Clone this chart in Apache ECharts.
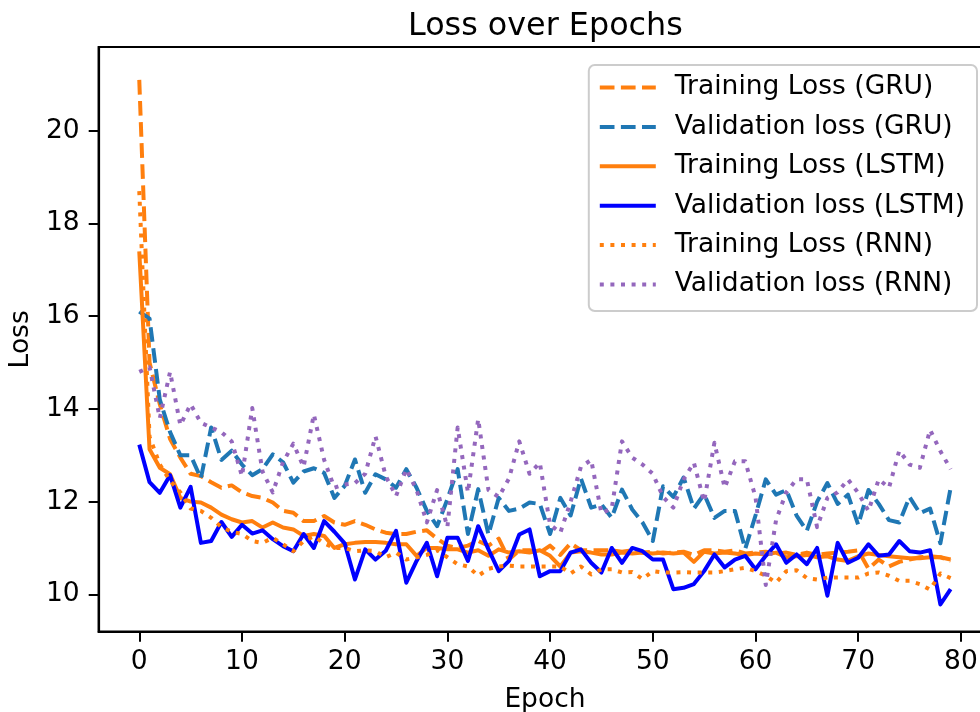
<!DOCTYPE html>
<html><head><meta charset="utf-8">
<script src="https://cdn.jsdelivr.net/npm/echarts@6/dist/echarts.min.js"></script>
<style>html,body{margin:0;padding:0;background:#fff}#c{width:980px;height:712px}</style>
</head><body><div id="c"></div>
<script>
const epochs = Array.from({length: 80}, (_, i) => i);
const xTicks = [0, 10, 20, 30, 40, 50, 60, 70, 80];
const yTicks = [10, 12, 14, 16, 18, 20];
const seriesNames = ['Training Loss (GRU)', 'Validation loss (GRU)', 'Training Loss (LSTM)', 'Validation loss (LSTM)', 'Training Loss (RNN)', 'Validation loss (RNN)'];

const gruTrain = [21.1,15.0,14.1,13.35,12.95,12.6,12.55,12.42,12.3,12.35,
12.2,12.12,12.08,11.98,11.8,11.76,11.58,11.58,11.69,11.55,
11.5,11.58,11.5,11.4,11.33,11.3,11.3,11.35,11.38,11.2,
11.05,11.0,11.05,11.15,11.05,11.2,10.75,10.95,10.95,10.9,
11.05,10.85,11.1,10.95,10.95,10.95,10.95,10.92,10.95,10.9,
10.92,10.88,10.9,10.92,10.85,10.95,10.95,10.92,10.95,10.88,
10.9,10.92,10.88,10.9,10.85,10.9,10.85,10.88,10.9,10.92,
10.95,10.55,10.75,10.6,10.7,10.75,10.8,10.82,10.8,10.72];

const gruVal = [16.1,15.95,14.2,13.5,13.0,13.0,12.5,13.6,12.9,13.1,
12.8,12.57,12.7,13.02,12.85,12.41,12.65,12.72,12.62,12.08,
12.34,12.91,12.19,12.59,12.48,12.3,12.7,12.3,11.8,11.47,
12.05,12.7,11.3,12.27,11.29,12.08,11.8,11.85,11.98,11.95,
11.3,12.08,11.7,12.5,11.87,11.94,11.65,12.26,11.83,11.55,
11.15,12.33,12.1,12.52,11.85,12.16,11.65,11.8,11.8,10.98,
11.7,12.48,12.15,12.25,11.7,11.37,12.0,12.4,11.95,12.15,
11.5,12.25,11.95,11.6,11.55,12.1,11.75,11.85,11.1,12.3];

const lstmTrain = [17.4,13.13,12.73,12.59,12.08,12.0,11.98,11.87,11.72,11.62,
11.55,11.58,11.44,11.55,11.44,11.4,11.26,11.3,11.26,11.0,
11.08,11.11,11.13,11.13,11.11,11.08,11.08,10.83,11.0,11.0,
10.97,10.97,10.9,10.95,10.83,10.97,10.9,10.93,10.9,10.95,
10.83,10.6,10.9,10.93,10.9,10.86,10.86,10.9,10.88,10.9,
10.88,10.9,10.88,10.9,10.7,10.92,10.88,10.9,10.88,10.85,
10.88,10.86,10.9,10.8,10.82,10.85,10.8,10.82,10.75,10.72,
10.82,10.88,10.85,10.82,10.8,10.78,10.78,10.8,10.8,10.75];

const lstmVal = [13.23,12.42,12.19,12.57,11.87,12.32,11.11,11.15,11.56,11.24,
11.5,11.31,11.38,11.19,11.04,10.93,11.3,11.0,11.58,11.35,
11.1,10.32,10.97,10.75,10.94,11.37,10.25,10.72,11.11,10.39,
11.22,11.22,10.72,11.47,10.97,10.5,10.72,11.29,11.4,10.39,
10.5,10.5,10.9,10.97,10.68,10.47,11.0,10.68,11.0,10.93,
10.75,10.75,10.11,10.14,10.22,10.5,10.86,10.58,10.75,10.83,
10.54,10.83,11.08,10.68,10.86,10.65,11.0,9.97,11.11,10.68,
10.79,11.08,10.83,10.86,11.15,10.93,10.9,10.95,9.78,10.11];

const rnnTrain = [18.7,13.4,12.8,12.45,12.2,11.85,11.8,11.65,11.45,11.35,
11.3,11.15,11.11,11.22,11.08,10.93,11.15,11.25,11.1,11.0,
11.0,10.93,10.95,10.93,10.8,10.9,10.75,10.8,10.85,10.95,
10.8,10.65,10.6,10.4,10.55,10.6,10.62,10.6,10.6,10.6,
10.6,10.6,10.45,10.6,10.43,10.54,10.54,10.47,10.48,10.33,
10.5,10.47,10.47,10.48,10.47,10.47,10.47,10.5,10.54,10.57,
10.5,10.4,10.25,10.5,10.52,10.35,10.32,10.36,10.36,10.36,
10.36,10.45,10.47,10.4,10.29,10.29,10.22,10.1,10.45,10.35];

const rnnVal = [14.8,14.9,13.8,14.8,13.65,14.1,13.7,13.6,13.5,13.3,
12.55,14.02,12.65,12.2,12.85,13.25,12.75,13.88,12.9,12.3,
12.37,12.4,12.6,13.41,12.55,12.12,12.7,12.25,11.55,12.25,
11.45,13.6,12.2,13.78,12.25,12.1,12.5,13.3,12.6,12.84,
11.5,11.33,12.0,12.75,12.9,11.75,11.85,13.3,12.95,12.8,
12.6,12.1,11.87,12.48,12.84,12.0,13.27,12.3,12.87,12.87,
12.1,10.2,11.6,12.2,12.48,12.48,11.45,12.08,12.2,12.48,
12.19,11.8,12.48,12.3,13.1,12.8,12.73,13.55,13.09,12.7];

const FONT = 'DejaVu Sans';
const DASH = [14.7, 6.4];
const DOT = [4, 6.6];

function mk(name, values, color, type) {
  return {
    name: name,
    type: 'line',
    data: values.map((v, i) => [epochs[i], v]),
    symbol: 'none',
    showSymbol: false,
    smooth: false,
    clip: true,
    lineStyle: { color: color, width: 4, type: type, cap: 'butt', join: 'round' },
    itemStyle: { color: color },
    emphasis: { disabled: true },
    animation: false
  };
}

const chart = echarts.init(document.getElementById('c'), null, { renderer: 'canvas' });
chart.setOption({
  animation: false,
  backgroundColor: '#fff',
  title: {
    text: 'Loss over Epochs',
    left: 408, top: 11, padding: 0,
    textStyle: { fontFamily: FONT, fontSize: 31.8, fontWeight: 'normal', color: '#000' }
  },
  grid: {
    left: 98.7, top: 47, width: 892.5, height: 584.7,
    outerBoundsMode: 'none',
    show: true, borderColor: '#000', borderWidth: 2.2, backgroundColor: 'transparent',
    containLabel: false
  },
  legend: {
    orient: 'vertical',
    right: 3, top: 65,
    padding: [9, 12, 13, 9],
    itemWidth: 56, itemHeight: 12, itemGap: 12.4,
    backgroundColor: 'rgba(255,255,255,0.8)',
    borderColor: '#cccccc', borderWidth: 2, borderRadius: 6,
    data: seriesNames,
    itemStyle: { color: 'rgba(0,0,0,0)', borderColor: 'rgba(0,0,0,0)', borderWidth: 0, opacity: 0 },
    lineStyle: { width: 4 },
    textStyle: { fontFamily: FONT, fontSize: 26.5, color: '#000', padding: [0, 0, 0, 14] },
    selectedMode: false
  },
  xAxis: {
    type: 'value', min: -3.95, max: 82.95,
    name: 'Epoch', nameLocation: 'middle', nameGap: 55,
    nameTextStyle: { fontFamily: FONT, fontSize: 26.5, color: '#000' },
    axisLine: { show: true, onZero: false, lineStyle: { color: '#000', width: 2.2 } },
    axisTick: { show: true, length: 10, customValues: xTicks, lineStyle: { color: '#000', width: 2 } },
    axisLabel: { customValues: xTicks, fontFamily: FONT, fontSize: 26.5, color: '#000', margin: 17 },
    splitLine: { show: false }
  },
  yAxis: {
    type: 'value', min: 9.193, max: 21.81,
    name: 'Loss', nameLocation: 'middle', nameGap: 62, nameRotate: 90,
    nameTextStyle: { fontFamily: FONT, fontSize: 26.5, color: '#000' },
    axisLine: { show: true, onZero: false, lineStyle: { color: '#000', width: 2.2 } },
    axisTick: { show: true, length: 10, customValues: yTicks, lineStyle: { color: '#000', width: 2 } },
    axisLabel: { customValues: yTicks, fontFamily: FONT, fontSize: 26.5, color: '#000', margin: 19 },
    splitLine: { show: false }
  },
  series: [
    mk(seriesNames[0], gruTrain, '#ff7f0e', DASH),
    mk(seriesNames[1], gruVal, '#1f77b4', DASH),
    mk(seriesNames[2], lstmTrain, '#ff7f0e', 'solid'),
    mk(seriesNames[3], lstmVal, '#0000ff', 'solid'),
    mk(seriesNames[4], rnnTrain, '#ff7f0e', DOT),
    mk(seriesNames[5], rnnVal, '#9467bd', DOT)
  ]
});
</script></body></html>
